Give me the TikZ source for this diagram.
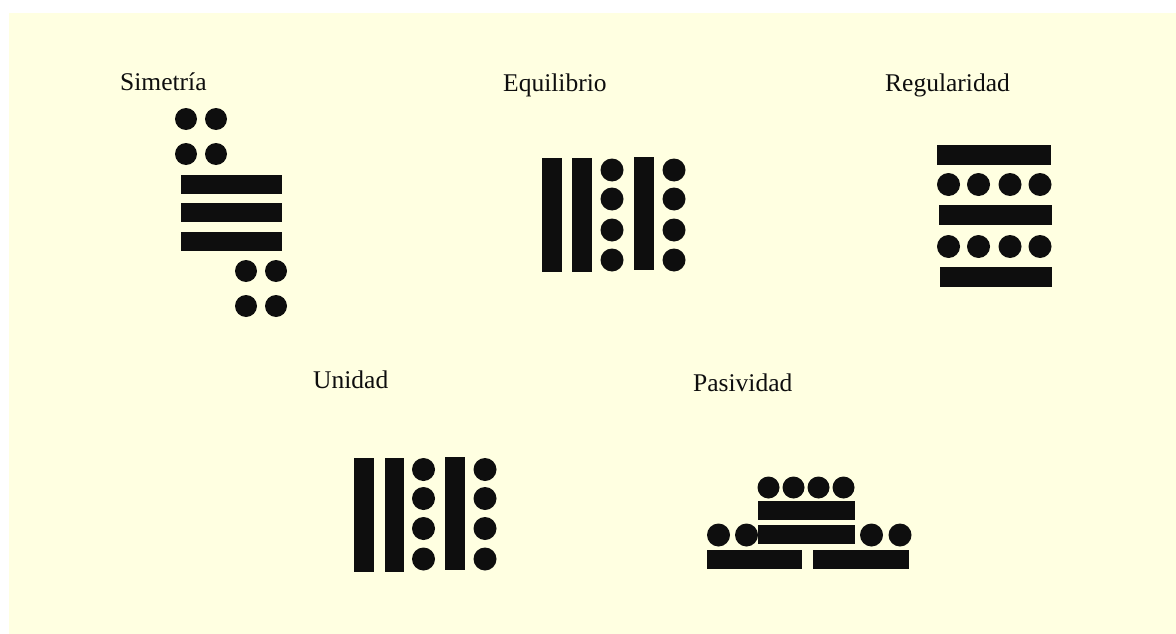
\documentclass[tikz,border=0pt]{standalone}
\usepackage{fontspec}
\setmainfont{Liberation Serif}
\definecolor{paper}{RGB}{255,255,225}
\definecolor{ink}{RGB}{14,14,14}
\begin{document}
\begin{tikzpicture}[x=1pt,y=-1pt,
  dot/.style={fill=ink},
  bar/.style={fill=ink},
  lbl/.style={anchor=base west,inner sep=0pt,font=\fontsize{25.5}{28}\selectfont,text=ink}]
\useasboundingbox (0,0) rectangle (1176,634);
\fill[white] (0,0) rectangle (1176,634);
\fill[paper] (9,13) rectangle (1176,634);

% ---- Simetria
\node[lbl] (tsim) at (120,91) {Simetría};
\foreach \x in {186,216} \foreach \y in {119,154} \fill[dot] (\x,\y) circle (11);
\fill[bar] (181,175) rectangle (282,194);
\fill[bar] (181,203) rectangle (282,222);
\fill[bar] (181,232) rectangle (282,251);
\foreach \x in {246,276} \foreach \y in {271,306} \fill[dot] (\x,\y) circle (11);

% ---- Equilibrio
\node[lbl] (tequ) at (503,91.5) {Equilibrio};
\begin{scope}[shift={(0,0)}]
\fill[bar] (542,158) rectangle (562,272);
\fill[bar] (572,158) rectangle (592,272);
\fill[bar] (634,157) rectangle (654,270);
\foreach \x in {612,674} \foreach \y in {170,199,230,260} \fill[dot] (\x,\y) circle (11.5);
\end{scope}

% ---- Regularidad
\node[lbl] (treg) at (885,91.5) {Regularidad};
\fill[bar] (937,145) rectangle (1051,165);
\fill[bar] (939,205) rectangle (1052,225);
\fill[bar] (940,267) rectangle (1052,287);
\foreach \x in {948.5,978.5,1010,1040} {\fill[dot] (\x,184.5) circle (11.5); \fill[dot] (\x,246.5) circle (11.5);}

% ---- Unidad
\node[lbl] (tuni) at (313,388.5) {Unidad};
\fill[bar] (354,458) rectangle (374,572);
\fill[bar] (385,458) rectangle (404,572);
\fill[bar] (445,457) rectangle (465,570);
\foreach \x in {423.5,485} \foreach \y in {469.5,498.5,528.5,559} \fill[dot] (\x,\y) circle (11.5);

% ---- Pasividad
\node[lbl] (tpas) at (693,391.5) {Pasividad};
\foreach \x in {768.5,793.5,818.5,843.5} \fill[dot] (\x,487.5) circle (11);
\fill[bar] (758,501) rectangle (855,519.5);
\fill[bar] (758,525) rectangle (855,543.5);
\foreach \x in {718.5,746.5,871.5,900} \fill[dot] (\x,535) circle (11.5);
\fill[bar] (707,550) rectangle (802,568.5);
\fill[bar] (813,550) rectangle (909,568.5);
\end{tikzpicture}
\end{document}
